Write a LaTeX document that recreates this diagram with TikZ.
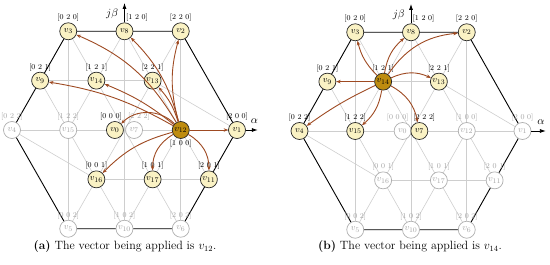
\documentclass[tikz,border=0pt]{standalone}
\usetikzlibrary{arrows.meta,backgrounds}
\definecolor{nfill}{RGB}{250,242,196}
\definecolor{hfill}{RGB}{190,140,15}
\definecolor{garr}{RGB}{158,74,34}
\definecolor{gline}{RGB}{206,206,206}
\definecolor{gtext}{RGB}{165,165,165}
\tikzset{
 vec/.style={circle,minimum size=17pt,inner sep=0pt,font=\fontsize{9.5}{10}\selectfont,line width=0.7pt},
 act/.style={vec,draw=black!85,fill=nfill},
 hil/.style={vec,draw=black!85,fill=hfill},
 ina/.style={vec,draw=gline!85!black,fill=white,text=gtext},
 lab/.style={font=\fontsize{7.5}{8}\selectfont,inner sep=0.5pt},
 glab/.style={lab,text=gtext},
 gridline/.style={draw=gline,line width=0.6pt},
 hexa/.style={draw=black,line width=0.9pt},
 tr/.style={draw=garr,line width=0.9pt,-{Stealth[length=4.5pt,width=3.5pt]}},
 axis/.style={draw=black,line width=0.8pt,-{Latex[length=6pt,width=4pt]}},
 axlab/.style={font=\fontsize{11}{12}\selectfont,inner sep=0pt},
 captext/.style={font=\fontsize{12}{14}\selectfont,inner sep=0pt},
}
\begin{document}
\begin{tikzpicture}
\useasboundingbox (0,0) rectangle (550pt,265pt);
% ---------------- panel (a) ----------------
\begin{scope}[shift={(124.5pt,135pt)},x=56.25pt,y=57pt]
\node[act,label={[lab]above:[2 0 0]}] (a1) at (2,0) {$v_{1}$};
\node[act,label={[lab]above:[2 2 0]}] (a2) at (1,1.732) {$v_{2}$};
\node[act,label={[lab]above:[0 2 0]}] (a3) at (-1,1.732) {$v_{3}$};
\node[ina,label={[glab]above:[0 2 2]}] (a4) at (-2,0) {$v_{4}$};
\node[ina,label={[glab]above:[0 0 2]}] (a5) at (-1,-1.732) {$v_{5}$};
\node[ina,label={[glab]above:[2 0 2]}] (a6) at (1,-1.732) {$v_{6}$};
\node[act,label={[lab,xshift=-4pt]above:[0 0 0]}] (a0) at (-0.17,0) {$v_{0}$};
\node[ina,label={[glab,xshift=5pt]above:[2 2 2]}] (a7) at (0.17,0) {$v_{7}$};
\node[act,label={[lab,anchor=south west,xshift=1pt]north:[1 2 0]}] (a8) at (0,1.732) {$v_{8}$};
\node[act,label={[lab]above:[0 2 1]}] (a9) at (-1.5,0.866) {$v_{9}$};
\node[ina,label={[glab]above:[1 0 2]}] (a10) at (0,-1.732) {$v_{10}$};
\node[act,label={[lab]above:[2 0 1]}] (a11) at (1.5,-0.866) {$v_{11}$};
\node[hil,label={[lab]below:[1 0 0]}] (a12) at (1,0) {$v_{12}$};
\node[act,label={[lab]above:[2 2 1]}] (a13) at (0.5,0.866) {$v_{13}$};
\node[act,label={[lab]above:[1 2 1]}] (a14) at (-0.5,0.866) {$v_{14}$};
\node[ina,label={[glab]above:[1 2 2]}] (a15) at (-1,0) {$v_{15}$};
\node[act,label={[lab]above:[0 0 1]}] (a16) at (-0.5,-0.866) {$v_{16}$};
\node[act,label={[lab]above:[1 0 1]}] (a17) at (0.5,-0.866) {$v_{17}$};
\coordinate (ayt) at (0,2.23);
\coordinate (axt) at (2.37,0);
\node[axlab] (ajb) at (-0.22,2.04) {$j\beta$};
\node[axlab] (aal) at (2.31,0.15) {$\alpha$};
\begin{scope}[on background layer]
\draw[gridline] (a4.center) -- (a1.center);
\draw[gridline] (a9.center) -- (a13.center);
\draw[gridline] (a16.center) -- (a11.center);
\draw[gridline] (a5.center) -- (a2.center);
\draw[gridline] (a15.center) -- (a8.center);
\draw[gridline] (a10.center) -- (a12.center);
\draw[gridline] (a6.center) -- (a3.center);
\draw[gridline] (a10.center) -- (a9.center);
\draw[gridline] (a11.center) -- (a8.center);
\draw[gridline] (a3.center) -- (a5.center);
\draw[gridline] (a8.center) -- (a10.center);
\draw[gridline] (a2.center) -- (a6.center);
\draw[gridline] (a4.center) -- (a16.center);
\draw[gridline] (a13.center) -- (a1.center);
\draw[hexa] (a1.center) -- (a2.center) -- (a3.center) -- (a4.center) -- (a5.center) -- (a6.center) -- cycle;
\end{scope}
\draw[axis] (a8) -- (ayt);
\draw[axis] (a1) -- (axt);
\draw[tr] (a12) to[bend right=18] (a3);
\draw[tr] (a12) to[bend right=15] (a8);
\draw[tr] (a12) to[bend left=15] (a2);
\draw[tr] (a12) to[bend right=12] (a13);
\draw[tr] (a12) to[bend right=8] (a14);
\draw[tr] (a12) to[bend right=10] (a9);
\draw[tr] (a12) to[bend right=45] (a0);
\draw[tr] (a12) -- (a1);
\draw[tr] (a12) to[bend right=15] (a16);
\draw[tr] (a12) to[bend right=30] (a17);
\draw[tr] (a12) to[bend left=30] (a11);
\end{scope}
% ---------------- panel (b) ----------------
\begin{scope}[shift={(411pt,134pt)},x=55.75pt,y=57pt]
\node[ina,label={[glab]above:[2 0 0]}] (b1) at (2,0) {$v_{1}$};
\node[act,label={[lab]above:[2 2 0]}] (b2) at (1,1.732) {$v_{2}$};
\node[act,label={[lab]above:[0 2 0]}] (b3) at (-1,1.732) {$v_{3}$};
\node[act,label={[lab]above:[0 2 2]}] (b4) at (-2,0) {$v_{4}$};
\node[ina,label={[glab]above:[0 0 2]}] (b5) at (-1,-1.732) {$v_{5}$};
\node[ina,label={[glab]above:[2 0 2]}] (b6) at (1,-1.732) {$v_{6}$};
\node[ina,label={[glab,xshift=-5pt]above:[0 0 0]}] (b0) at (-0.15,0) {$v_{0}$};
\node[act,label={[lab,xshift=5pt]above:[2 2 2]}] (b7) at (0.15,0) {$v_{7}$};
\node[act,label={[lab,anchor=south west,xshift=1pt]north:[1 2 0]}] (b8) at (0,1.732) {$v_{8}$};
\node[act,label={[lab]above:[0 2 1]}] (b9) at (-1.5,0.866) {$v_{9}$};
\node[ina,label={[glab]above:[1 0 2]}] (b10) at (0,-1.732) {$v_{10}$};
\node[ina,label={[glab]above:[2 0 1]}] (b11) at (1.5,-0.866) {$v_{11}$};
\node[ina,label={[glab]above:[1 0 0]}] (b12) at (1,0) {$v_{12}$};
\node[act,label={[lab]above:[2 2 1]}] (b13) at (0.5,0.866) {$v_{13}$};
\node[hil,label={[lab]above:[1 2 1]}] (b14) at (-0.5,0.866) {$v_{14}$};
\node[act,label={[lab]above:[1 2 2]}] (b15) at (-1,0) {$v_{15}$};
\node[ina,label={[glab]above:[0 0 1]}] (b16) at (-0.5,-0.866) {$v_{16}$};
\node[ina,label={[glab]above:[1 0 1]}] (b17) at (0.5,-0.866) {$v_{17}$};
\coordinate (byt) at (0,2.23);
\coordinate (bxt) at (2.42,0);
\node[axlab] (bjb) at (-0.22,2.04) {$j\beta$};
\node[axlab] (bal) at (2.33,0.15) {$\alpha$};
\begin{scope}[on background layer]
\draw[gridline] (b4.center) -- (b1.center);
\draw[gridline] (b9.center) -- (b13.center);
\draw[gridline] (b16.center) -- (b11.center);
\draw[gridline] (b5.center) -- (b2.center);
\draw[gridline] (b15.center) -- (b8.center);
\draw[gridline] (b10.center) -- (b12.center);
\draw[gridline] (b6.center) -- (b3.center);
\draw[gridline] (b10.center) -- (b9.center);
\draw[gridline] (b11.center) -- (b8.center);
\draw[gridline] (b3.center) -- (b5.center);
\draw[gridline] (b8.center) -- (b10.center);
\draw[gridline] (b2.center) -- (b6.center);
\draw[gridline] (b4.center) -- (b16.center);
\draw[gridline] (b13.center) -- (b1.center);
\draw[hexa] (b1.center) -- (b2.center) -- (b3.center) -- (b4.center) -- (b5.center) -- (b6.center) -- cycle;
\end{scope}
\draw[axis] (b8) -- (byt);
\draw[axis] (b1) -- (bxt);
\draw[tr] (b14) to[bend left=15] (b3);
\draw[tr] (b14) to[bend left=20] (b8);
\draw[tr] (b14) to[bend left=25] (b2);
\draw[tr] (b14) to[bend left=25] (b13);
\draw[tr] (b14) -- (b9);
\draw[tr] (b14) to[bend right=5] (b4);
\draw[tr] (b14) to[bend left=20] (b15);
\draw[tr] (b14) to[bend left=25] (b7);
\end{scope}
% ---------------- captions ----------------
\node[captext] (capa) at (125pt,18pt) {\textbf{(a)} The vector being applied is $v_{12}$.};
\node[captext] (capb) at (410pt,18pt) {\textbf{(b)} The vector being applied is $v_{14}$.};
\end{tikzpicture}
\end{document}
